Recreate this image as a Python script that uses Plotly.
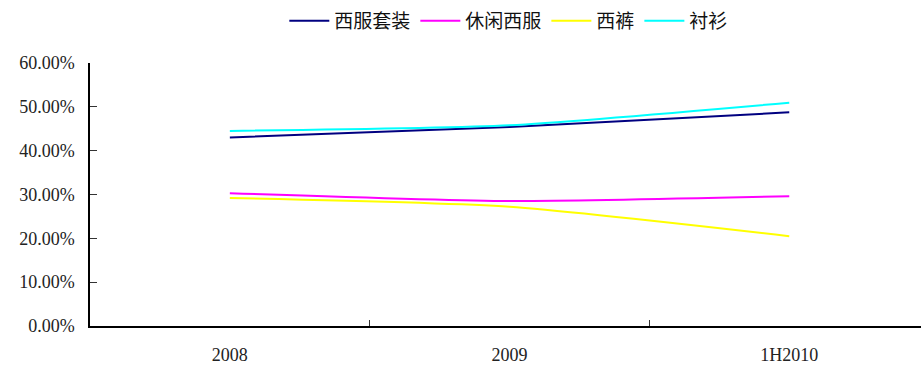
import plotly.graph_objects as go

categories = ["2008", "2009", "1H2010"]
series_names = ["西服套装", "休闲西服", "西裤", "衬衫"]
suits = [0.430, 0.454, 0.4875]
casual = [0.303, 0.285, 0.296]
trousers = [0.292, 0.272, 0.205]
shirts = [0.445, 0.458, 0.5095]
colors = ["#000080", "#FF00FF", "#FFFF00", "#00FFFF"]

fig = go.Figure()
for name, vals, col in zip(series_names, [suits, casual, trousers, shirts], colors):
    fig.add_trace(go.Scatter(
        x=categories, y=vals, name=name, mode="lines",
        line=dict(color=col, width=2, shape="spline", smoothing=0.6),
    ))

fig.update_layout(
    width=921, height=367,
    margin=dict(l=90, r=0, t=63, b=41),
    paper_bgcolor="white", plot_bgcolor="white",
    showlegend=True,
    legend=dict(orientation="h", x=0.504, xanchor="center", y=0.995, yanchor="top",
                yref="container", font=dict(family="Noto Sans CJK SC", size=19, color="#111"),
                itemwidth=40, tracegroupgap=0),
    font=dict(family="Liberation Serif", size=18, color="#222"),
)
fig.update_xaxes(
    type="category", range=[-0.5, 2.471],
    showline=True, linecolor="black", linewidth=1.5,
    ticks="inside", ticklen=6, tickcolor="#333", tickwidth=1,
    tickson="boundaries", showgrid=False, zeroline=False,
    ticklabelstandoff=12,
)
fig.update_yaxes(
    range=[0, 0.6], dtick=0.1, tickformat=".2%",
    showline=True, linecolor="black", linewidth=1.5,
    ticks="inside", ticklen=7, tickcolor="#333", tickwidth=1,
    showgrid=False, zeroline=False, ticklabelstandoff=10,
)
fig.write_html("out.html")
